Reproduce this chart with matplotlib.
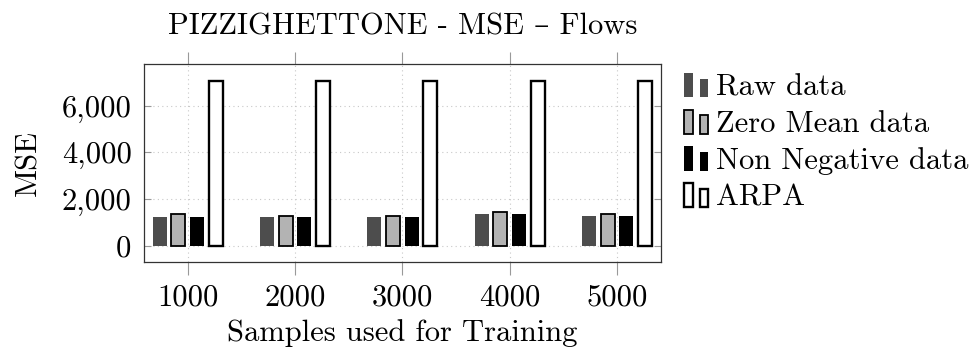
import matplotlib
matplotlib.use("Agg")
import matplotlib.pyplot as plt
import numpy as np
from matplotlib.legend_handler import HandlerBase
from matplotlib.patches import Rectangle
from matplotlib.ticker import FuncFormatter

plt.rcParams['font.family'] = ['cmr10', 'DejaVu Serif']
plt.rcParams['mathtext.fontset'] = 'cm'
plt.rcParams['axes.unicode_minus'] = False

samples = [1000, 2000, 3000, 4000, 5000]
raw_mse = [1245, 1215, 1215, 1370, 1285]
zero_mean_mse = [1345, 1285, 1285, 1430, 1345]
non_negative_mse = [1245, 1215, 1215, 1370, 1285]
arpa_mse = [7070, 7070, 7070, 7070, 7070]

series = [
    ('Raw data', raw_mse, '#4d4d4d', '#4d4d4d', 0.0),
    ('Zero Mean data', zero_mean_mse, '#b3b3b3', 'black', 1.3),
    ('Non Negative data', non_negative_mse, 'black', 'black', 0.0),
    ('ARPA', arpa_mse, 'white', 'black', 1.7),
]


class TwoBarHandler(HandlerBase):
    # pgfplots-style ybar legend image: a tall bar next to a shorter one
    def create_artists(self, legend, orig_handle, xdescent, ydescent,
                       width, height, fontsize, trans):
        fc = orig_handle.get_facecolor()
        ec = orig_handle.get_edgecolor()
        lw = orig_handle.get_linewidth()
        bw = width * 0.36
        x0 = -xdescent
        y0 = -ydescent
        tall = Rectangle((x0, y0), bw, height, facecolor=fc, edgecolor=ec,
                         linewidth=lw, transform=trans)
        short = Rectangle((x0 + width - bw, y0), bw, height * 0.77,
                          facecolor=fc, edgecolor=ec, linewidth=lw,
                          transform=trans)
        return [tall, short]


fig = plt.figure(figsize=(9.75, 3.49), dpi=100)
ax = fig.add_axes([0.1477, 0.2493, 0.5299, 0.5673])

x = np.array(samples)
bar_w = 130
offsets = [-261, -87, 87, 261]
handles = []
for (label, vals, fc, ec, lw), off in zip(series, offsets):
    b = ax.bar(x + off, vals, width=bar_w, color=fc, edgecolor=ec,
               linewidth=lw, label=label, zorder=3)
    handles.append(b.patches[0])

ax.set_xlim(593, 5407)
ax.set_ylim(-700, 7790)
ax.set_xticks(samples)
ax.set_yticks([0, 2000, 4000, 6000])
ax.yaxis.set_major_formatter(FuncFormatter(lambda v, p: '{:,.0f}'.format(v)))

ax.grid(True, color='#c8c8c8', linestyle=(0, (1, 3)), linewidth=0.8, zorder=0)
ax.tick_params(axis='x', direction='out', top=True, length=9, width=0.8,
               color='#999999', labelsize=22, pad=7)
ax.tick_params(axis='y', direction='in', right=True, length=5, width=0.8,
               color='#999999', labelsize=22, pad=9)
for s in ax.spines.values():
    s.set_linewidth(0.9)
    s.set_color('#333333')

ax.set_xlabel('Samples used for Training', fontsize=22, labelpad=5)
ax.set_ylabel('MSE', fontsize=22, labelpad=14)
ax.set_title('PIZZIGHETTONE - MSE \u2013 Flows', fontsize=22, pad=21)

fig.legend(handles, [s[0] for s in series], loc='upper left',
           bbox_to_anchor=(684 / 975, 1 - 73 / 349), frameon=False,
           fontsize=22, borderpad=0, borderaxespad=0, handlelength=0.8,
           handleheight=0.85, handletextpad=0.25, labelspacing=0.26,
           handler_map={Rectangle: TwoBarHandler()})

fig.savefig('out.png', dpi=100)
